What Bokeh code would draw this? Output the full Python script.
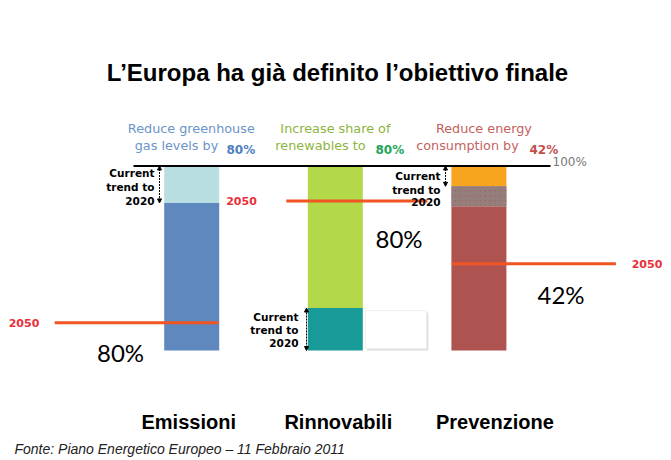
from bokeh.plotting import figure
from bokeh.models import Range1d, Arrow, NormalHead
from bokeh.core.properties import value
from bokeh.embed import file_html
from bokeh.resources import INLINE

# ---------------- data ----------------
categories = ["Emissioni", "Rinnovabili", "Prevenzione"]
full_level = 100                      # today's level (100%)
seg_category = ["Emissioni", "Emissioni", "Rinnovabili", "Rinnovabili",
                "Prevenzione", "Prevenzione", "Prevenzione"]
seg_bottom = [0, 80, 0, 23, 0, 78, 89]
seg_top = [80, 100, 23, 100, 78, 89, 100]
trend_2020_from = [100, 0, 100]       # span of the "current trend to 2020" arrows
trend_2020_to = [80, 23, 89]
target_2050 = [15, 81, 47]            # level of the 2050 line
target_labels = ["80%", "80%", "42%"]
header_line1 = ["Reduce greenhouse", "Increase share of", "Reduce energy"]
header_line2 = ["gas levels by", "renewables to", "consumption by"]
header_values = ["80%", "80%", "42%"]
year_label = "2050"
trend_lines = ["Current", "trend to", "2020"]
title = "L\u2019Europa ha già definito l\u2019obiettivo finale"
source = "Fonte: Piano Energetico Europeo \u2013 11 Febbraio 2011"

# ---------------- layout helpers (pixel <-> data) ----------------
X0, UX = 191.2, 143.6      # pixel of category 0, pixels per category step
Y0, UY = 350.0, 1.845      # pixel of level 0, pixels per percentage point
def X(px):
    return (px - X0) / UX
def Y(py):
    return (Y0 - py) / UY
def DX(dpx):
    return dpx / UX

W, H = 671, 460
p = figure(width=W, height=H, output_backend="svg", toolbar_location=None,
           x_range=Range1d(X(0), X(W)), y_range=Range1d(Y(H), Y(0)),
           x_axis_type=None, y_axis_type=None, min_border=0,
           outline_line_color=None, background_fill_color="white",
           border_fill_color="white")
p.grid.visible = False

idx = {c: i for i, c in enumerate(categories)}
bar_w = DX(55)

seg_colors = ["#5f88be", "#b8dee2", "#179a98", "#b3d94b", "#af5351", "#a5605a", "#f7a41e"]
xs = [idx[c] for c in seg_category]
plain = [i for i in range(len(xs)) if i != 5]
p.vbar(x=[xs[i] for i in plain], bottom=[seg_bottom[i] for i in plain],
       top=[seg_top[i] for i in plain], width=bar_w,
       fill_color=[seg_colors[i] for i in plain], line_color=None)
p.vbar(x=[xs[5]], bottom=[seg_bottom[5]], top=[seg_top[5]], width=bar_w,
       fill_color=seg_colors[5], line_color=None,
       hatch_pattern="/", hatch_color="#8e8a88", hatch_scale=5, hatch_weight=2, hatch_alpha=0.8)

# empty box with shadow next to the Rinnovabili bar
bx0, bx1 = idx["Rinnovabili"] + DX(30), idx["Rinnovabili"] + DX(91)
p.quad(left=[bx0 + DX(2)], right=[bx1 + DX(2)], bottom=[Y(350)], top=[Y(312)],
       fill_color="#dddddd", line_color=None)
p.quad(left=[bx0], right=[bx1], bottom=[Y(348)], top=[Y(310)],
       fill_color="white", line_color="#f0f0f0")

# top 100% line
p.segment(x0=[X(133)], x1=[X(550)], y0=[full_level], y1=[full_level],
          line_color="black", line_width=2)
p.text(x=[X(552)], y=[Y(161)], text=["100%"], text_font=value("DejaVu Sans"),
       text_font_size="12px", text_color="#777777", text_align="left",
       text_baseline="middle")

# 2050 lines
line_from = [-137, -49, -27]
line_to = [27, 92, 137]
p.segment(x0=[i + DX(a) for i, a in enumerate(line_from)],
          x1=[i + DX(b) for i, b in enumerate(line_to)],
          y0=target_2050, y1=target_2050, line_color="#f05522", line_width=3)
year_x = [X(23.5), X(241), X(646.5)]
p.text(x=year_x, y=target_2050, text=[year_label] * 3,
       text_font=value("DejaVu Sans"), text_font_style="bold",
       text_font_size="11px", text_color="#e8303a",
       text_align="center", text_baseline="middle")

# big percentages
p.text(x=[X(120), X(398.5), X(560.5)], y=[Y(352), Y(238), Y(293.5)],
       text=target_labels, text_font=value("Lato"), text_font_size="24px",
       text_color="black", text_align="center", text_baseline="middle")

# current trend labels and arrows
trend_text_x = [X(154), X(298), X(440)]
trend_text_y = [[172, 186.5, 200], [316, 329, 342], [175, 189, 201]]
arrow_x = [X(159), X(306), X(445)]
for i in range(3):
    p.text(x=[trend_text_x[i]] * 3, y=[Y(v) for v in trend_text_y[i]], text=trend_lines,
           text_font=value("DejaVu Sans"), text_font_style="bold",
           text_font_size="10.5px", text_color="black",
           text_align="right", text_baseline="middle")
    p.add_layout(Arrow(x_start=arrow_x[i], x_end=arrow_x[i],
                       y_start=trend_2020_from[i], y_end=trend_2020_to[i],
                       line_color="black", line_width=1, line_dash="2 1",
                       start=NormalHead(size=4, fill_color="black", line_color="black"),
                       end=NormalHead(size=4, fill_color="black", line_color="black")))

# header texts
h1_colors = ["#6a93c9", "#8db43e", "#c4625e"]
hv_colors = ["#4f7fc0", "#22a559", "#c0504d"]
p.text(x=[X(190.8), X(334.9), X(483.4)], y=[Y(128)] * 3, text=header_line1,
       text_font=value("DejaVu Sans"), text_font_size="12.8px",
       text_color=h1_colors, text_align="center", text_baseline="middle")
p.text(x=[X(176), X(320), X(467)], y=[Y(145)] * 3, text=header_line2,
       text_font=value("DejaVu Sans"), text_font_size="12.8px",
       text_color=h1_colors, text_align="center", text_baseline="middle")
p.text(x=[X(226), X(375), X(529)], y=[Y(149)] * 3, text=header_values,
       text_font=value("DejaVu Sans"), text_font_style="bold", text_font_size="12px",
       text_color=hv_colors, text_align="left", text_baseline="middle")

# category labels
cat_offset = [-3, 3, 16]
p.text(x=[i + DX(o) for i, o in enumerate(cat_offset)], y=[Y(421)] * 3, text=categories,
       text_font=value("Liberation Sans"), text_font_style="bold",
       text_font_size="20px", text_color="black",
       text_align="center", text_baseline="middle")

# title and source
p.text(x=[X(337)], y=[Y(72)], text=[title], text_font=value("Liberation Sans"),
       text_font_style="bold", text_font_size="24px", text_color="black",
       text_align="center", text_baseline="middle")
p.text(x=[X(14)], y=[Y(448.5)], text=[source], text_font=value("Liberation Sans"),
       text_font_style="italic", text_font_size="14px", text_color="#222222",
       text_align="left", text_baseline="middle")

open("out.html", "w").write(file_html(p, INLINE))
